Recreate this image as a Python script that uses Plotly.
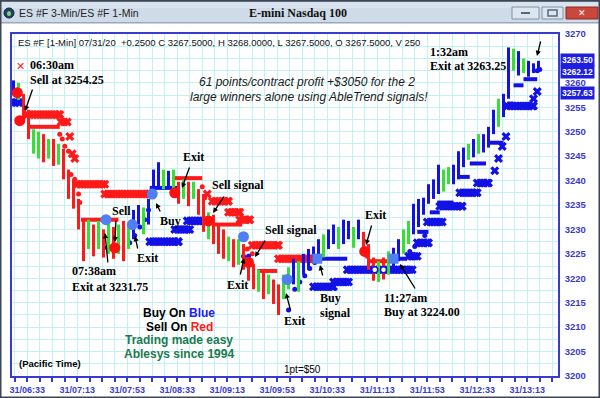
import plotly.graph_objects as go
import pandas as pd

DAY = "2020-07-31 "

# ---------------- data ----------------
bar_start = "06:22"          # first 4-minute bar
bar_step_min = 4
bar_high = [3260.5, 3260, 3257.75, 3254.5, 3250.5, 3250, 3249.5, 3248.5, 3248.5, 3247.5,
            3246.5, 3242.25, 3240.25, 3236.25, 3232, 3232, 3231, 3231.75, 3230, 3231.75,
            3230.5, 3231, 3231.75, 3231, 3234, 3235, 3234.5, 3236.25, 3242.25, 3243.75,
            3242.25, 3242, 3242.25, 3239.75, 3240.25, 3239.75, 3239.75, 3238.25, 3237.25, 3233.5,
            3233, 3231, 3230, 3228.5, 3228, 3228, 3227, 3224.25, 3223, 3221.75,
            3221.5, 3220.75, 3219.75, 3218.75, 3220.75, 3222.25, 3224, 3223.5, 3225, 3226,
            3226.5, 3228, 3229, 3230, 3231, 3230.5, 3232, 3231.75, 3230.5, 3232,
            3229.5, 3227, 3224.25, 3223.5, 3224.25, 3225.5, 3226.25, 3228, 3230, 3231.75,
            3235.25, 3236.25, 3236.5, 3239.25, 3240.25, 3243.25, 3242.25, 3242.75, 3243.25, 3246,
            3246.75, 3247.5, 3248.5, 3249.5, 3249.5, 3251, 3254.5, 3256.75, 3257.75, 3267.25,
            3267, 3266.5, 3265, 3264.5, 3264, 3264.5]
bar_low = [3257.5, 3256.5, 3252.25, 3248.5, 3245.5, 3244.5, 3243.75, 3244.5, 3243, 3243.25,
           3240.25, 3236.25, 3234.25, 3230, 3223.5, 3226, 3224.5, 3226, 3224.25, 3225,
           3224, 3225, 3223.5, 3226, 3228, 3231, 3229, 3231, 3236.25, 3238.25,
           3238.25, 3238.75, 3237.25, 3235.25, 3236.25, 3234.75, 3236.25, 3233, 3229.5, 3228,
           3227, 3225, 3224, 3223.5, 3222.25, 3222.75, 3221.75, 3219.5, 3217.75, 3217.25,
           3215.75, 3216.75, 3214.75, 3212.5, 3215.75, 3217.75, 3218.75, 3217.25, 3220.75, 3221.75,
           3223.5, 3223.5, 3224.25, 3226, 3227, 3226, 3227, 3228, 3226.25, 3228,
           3225, 3221.75, 3219.5, 3219.25, 3219.75, 3220.75, 3222.25, 3223.5, 3225, 3227,
           3229, 3230.5, 3233, 3235.25, 3236.25, 3237.25, 3237.75, 3239.25, 3239.25, 3240.25,
           3242.75, 3244.25, 3244.75, 3245.5, 3245.75, 3246.75, 3249.5, 3251, 3253, 3256.75,
           3262.5, 3261.5, 3262, 3261.25, 3262, 3262.5]
bar_color = ("bgrrggrgrg" "rrrrrgrgrg" "rgrgbbgbbb" "gbgrgrgrrg" "rrrgrgrrrg"
             "rgrrggbgbb" "bbgbbgbbgb" "rrrgrgbbgg" "bbbbbbggbb" "bgbgbbbgbb" "gbgbbb")

# trailing stop X bands (sell = red, buy = blue)
red_x_start = ["06:33", "07:00", "07:07", "07:09", "07:11", "07:13", "07:35", "08:57", "09:01", "09:14", "09:23", "09:33", "09:54"]
red_x_end   = ["06:59", "07:05", "07:07", "07:09", "07:11", "07:35", "08:11", "08:57", "09:14", "09:23", "09:31", "09:54", "10:22"]
red_x_price = [3253.5, 3252, 3249, 3245.5, 3244.5, 3239.25, 3237.25, 3237.25, 3235.75, 3233.5, 3232, 3226.75, 3224]

blue_x_start = ["06:21", "08:11", "08:31", "08:41", "10:22", "10:38", "10:49", "11:38", "11:45", "11:53", "12:03",
                "12:19", "12:33", "12:47", "12:50", "12:53", "12:56", "12:57", "13:18", "13:21"]
blue_x_end   = ["06:27", "08:34", "08:43", "08:55", "10:38", "10:50", "11:41", "11:45", "11:54", "12:05", "12:21",
                "12:33", "12:42", "12:47", "12:50", "12:53", "12:56", "13:18", "13:18", "13:21"]
blue_x_price = [3256, 3227.5, 3230, 3231.75, 3218.25, 3219.25, 3221.75, 3224.5, 3227.25, 3231.5, 3234.75,
                3237.5, 3239.5, 3242, 3244.5, 3247, 3249, 3255.25, 3256.75, 3258.25]

# step-line stops
red_line_start = ["06:35", "07:16", "08:31", "09:01", "09:37", "11:07"]
red_line_end   = ["06:59", "07:46", "08:53", "09:25", "09:53", "11:23"]
red_line_price = [3251, 3232, 3240.5, 3231, 3221.5, 3223.5]

red_dot_time = ["06:59", "07:01", "07:03", "07:06", "07:08", "07:11", "07:14", "07:15", "08:53", "08:55", "09:29", "09:33", "11:05"]
red_dot_price = [3249.5, 3248.5, 3247, 3246, 3241.25, 3240.25, 3237.25, 3235.5, 3238.75, 3236.5, 3226, 3225, 3224.5]

blue_line_start = ["07:34", "08:11", "10:27", "11:31", "11:45", "11:55", "12:01", "12:17", "12:27", "12:43", "12:57", "13:02", "13:10"]
blue_line_end   = ["07:47", "08:34", "10:49", "11:37", "11:54", "12:03", "12:14", "12:27", "12:40", "12:54", "13:02", "13:10", "13:21"]
blue_line_price = [3226.25, 3238.5, 3224, 3224, 3229.5, 3233.5, 3235.5, 3240.75, 3243.5, 3247.75, 3255.75, 3259.5, 3260.75]

blue_dot_time = ["07:55", "07:59", "08:03", "08:07", "08:10", "09:26", "09:30", "10:02", "10:07", "10:11", "10:15",
                 "10:19", "10:23", "11:39", "11:43", "11:51", "13:21", "13:23"]
blue_dot_price = [3227.25, 3228.75, 3230.5, 3232, 3234, 3224.5, 3224.5, 3213.5, 3217.75, 3219.25, 3220.5,
                  3222, 3223.25, 3225.5, 3226.5, 3228.75, 3262.5, 3262.75]

# signal markers
red_sig_time = ["06:25", "06:27", "07:43", "08:31", "08:58", "09:30", "11:03"]
red_sig_price = [3258, 3252.25, 3226.25, 3237.5, 3231.75, 3223.25, 3225.5]
blue_sig_time = ["07:36", "07:57", "08:13", "09:26", "10:01"]
blue_sig_price = [3232, 3231, 3237.25, 3228.5, 3219.75]
blue_sq_time = ["10:25", "11:26"]
blue_sq_price = [3224, 3224]
open_circle_time = ["11:11", "11:18"]
open_circle_price = [3221.75, 3221.75]

price_tags = ["3263.50", "3262.12", "3257.63"]

# ---------------- helpers ----------------
W, H = 600, 398
ML, MR, MT, MB = 12, 42, 34, 22
PW, PH = W - ML - MR, H - MT - MB


def px(X):
    return (X - ML) / PW


def py(Y):
    return (H - MB - Y) / PH


def T(s):
    return pd.Timestamp(DAY + s)


def band(starts, ends, prices, step_sec=150):
    xs, ys = [], []
    for s, e, p in zip(starts, ends, prices):
        t, te = T(s), T(e)
        while t <= te:
            xs.append(t)
            ys.append(p)
            t += pd.Timedelta(seconds=step_sec)
        if xs[-1] < te:
            xs.append(te)
            ys.append(p)
    return xs, ys


def segs(starts, ends, prices):
    xs, ys = [], []
    for s, e, p in zip(starts, ends, prices):
        xs += [T(s), T(e), None]
        ys += [p, p, None]
    return xs, ys


RED, GREEN, BLUE, LBLUE = "#ff1a1a", "#33e033", "#1212e6", "#4f7ff2"
AX = "#3a3ad0"
GRID = "#c4f1f5"

fig = go.Figure()

# X bands
for st, en, pr, col in [(red_x_start, red_x_end, red_x_price, RED),
                        (blue_x_start, blue_x_end, blue_x_price, BLUE)]:
    bx, by = band(st, en, pr)
    fig.add_trace(go.Scatter(x=bx, y=by, mode="markers",
                             marker=dict(symbol="x", size=8, color=col, line=dict(width=0))))

# step lines and dots
for st, en, pr, col in [(red_line_start, red_line_end, red_line_price, RED),
                        (blue_line_start, blue_line_end, blue_line_price, BLUE)]:
    lx, ly = segs(st, en, pr)
    fig.add_trace(go.Scatter(x=lx, y=ly, mode="lines", line=dict(color=col, width=4)))
fig.add_trace(go.Scatter(x=[T(t) for t in red_dot_time], y=red_dot_price, mode="markers",
                         marker=dict(symbol="circle", size=5, color=RED)))
fig.add_trace(go.Scatter(x=[T(t) for t in blue_dot_time], y=blue_dot_price, mode="markers",
                         marker=dict(symbol="circle", size=5, color=BLUE)))

# price bars
bar_times = [T(bar_start) + pd.Timedelta(minutes=bar_step_min * i) for i in range(len(bar_high))]
for code, col in [("r", RED), ("g", GREEN), ("b", BLUE)]:
    xs, ys = [], []
    for t, h, l, c in zip(bar_times, bar_high, bar_low, bar_color):
        if c == code:
            xs += [t, t, None]
            ys += [l, h, None]
    fig.add_trace(go.Scatter(x=xs, y=ys, mode="lines", line=dict(color=col, width=3)))

# signals
fig.add_trace(go.Scatter(x=[T(t) for t in red_sig_time], y=red_sig_price, mode="markers",
                         marker=dict(symbol="circle", size=11, color="#ff1010")))
fig.add_trace(go.Scatter(x=[T(t) for t in blue_sig_time], y=blue_sig_price, mode="markers",
                         marker=dict(symbol="circle", size=11, color=LBLUE)))
fig.add_trace(go.Scatter(x=[T(t) for t in blue_sq_time], y=blue_sq_price, mode="markers",
                         marker=dict(symbol="square", size=10, color=LBLUE)))
fig.add_trace(go.Scatter(x=[T(t) for t in open_circle_time], y=open_circle_price, mode="markers",
                         marker=dict(symbol="circle", size=6, color="white", line=dict(color=BLUE, width=1.5))))

# ---------------- annotations ----------------
ann = []
SERIF = dict(family="Liberation Serif, Times New Roman, serif", size=12, color="black")


def label(text, X, Y, anchor="center", font=SERIF):
    ann.append(dict(text=text, x=px(X), y=py(Y), xref="paper", yref="paper", showarrow=False,
                    xanchor=anchor, yanchor="middle", font=font))


def arrow(tail, tip):
    ann.append(dict(text="", x=px(tip[0]), y=py(tip[1]), xref="paper", yref="paper", showarrow=True,
                    ax=tail[0] - tip[0], ay=tail[1] - tip[1], arrowhead=2, arrowsize=0.8,
                    arrowwidth=1.3, arrowcolor="black"))


for t, X, Y, a in [("<b>06:30am</b>", 28, 65, "left"), ("<b>Sell at 3254.25</b>", 28, 80, "left"),
                   ("<b>Exit</b>", 193, 157, "center"), ("<b>Sell signal</b>", 238, 185, "center"),
                   ("<b>Sell signal</b>", 291, 230, "center"), ("<b>Exit</b>", 238, 285, "center"),
                   ("<b>Exit</b>", 294, 321, "center"), ("<b>Sell</b>", 121, 211, "center"),
                   ("<b>Buy</b>", 170, 221, "center"), ("<b>Exit</b>", 147, 258, "center"),
                   ("<b>07:38am</b>", 70, 271, "left"), ("<b>Exit at 3231.75</b>", 70, 287, "left"),
                   ("<b>Exit</b>", 375, 215, "center"), ("<b>Buy</b>", 318, 298, "left"),
                   ("<b>signal</b>", 318, 313, "left"), ("<b>11:27am</b>", 382, 298, "left"),
                   ("<b>Buy at 3224.00</b>", 382, 312, "left"), ("<b>1:32am</b>", 428, 52, "left"),
                   ("<b>Exit at 3263.25</b>", 428, 66, "left")]:
    label(t, X, Y, a)

for tail, tip in [((33, 88), (25, 111)), ((190, 166), (182, 188)), ((225, 195), (213, 213)),
                  ((266, 239), (255, 257)), ((240, 276), (244, 258)), ((291, 312), (286, 293)),
                  ((116, 219), (115, 242)), ((161, 213), (156, 203)), ((138, 250), (135, 236)),
                  ((108, 264), (105, 233)), ((372, 224), (366, 245)), ((323, 277), (320, 265)),
                  ((416, 290), (400, 264)), ((541, 40), (537, 56))]:
    arrow(tail, tip)

label("✕", 20, 66, "center", dict(family="DejaVu Sans", size=11, color=RED))

SANS = "Liberation Sans, Arial, sans-serif"
ital = dict(family=SANS, size=12, color="#1a1a1a")
label("<i>61 points/contract profit +$3050 for the 2</i>", 197, 82, "left", ital)
label("<i>large winners alone using AbleTrend signals!</i>", 188, 97, "left", ital)

bold12 = dict(family=SANS, size=12, color="black")
label("<b>Buy On <span style='color:#1a1aff'>Blue</span></b>", 179, 313, "center", bold12)
label("<b>Sell On <span style='color:#ff1a1a'>Red</span></b>", 179, 327, "center", bold12)
green12 = dict(family=SANS, size=12, color="#1b7a4f")
label("<b>Trading made easy</b>", 179, 340, "center", green12)
label("<b>Ablesys since 1994</b>", 179, 354, "center", green12)
label("<b>(Pacific Time)</b>", 17, 363, "left", dict(family=SANS, size=9.5, color="black"))
label("1pt=$50", 302, 369, "center", dict(family=SANS, size=10, color="black"))
label("ES #F [1-Min] 07/31/20  +0.2500 C 3267.5000, H 3268.0000, L 3267.5000, O 3267.5000, V 250",
      16, 43, "left", dict(family=SANS, size=9.5, color="#111111"))

# window title bar texts
label("ES #F 3-Min/ES #F 1-Min", 17, 13, "left", dict(family=SANS, size=10.5, color="#222222"))
label("<b>E-mini Nasdaq 100</b>", 298, 13, "center",
      dict(family="Liberation Serif, Times New Roman, serif", size=12, color="#111111"))
label("<b>✕</b>", 582, 13, "center", dict(family="DejaVu Sans", size=9, color="white"))

# price tags on the right axis
for txt, Y in zip(price_tags, [60, 72, 93]):
    ann.append(dict(text="<b>" + txt + "</b>", x=px(560), y=py(Y), xref="paper", yref="paper",
                    showarrow=False, xanchor="left", yanchor="middle", bgcolor="#1e1ee0",
                    borderpad=1, font=dict(family=SANS, size=8.5, color="white")))

# ---------------- window chrome ----------------
shapes = []


def rect(X0, Y0, X1, Y1, fill=None, line=None, lw=1, layer="above"):
    shapes.append(dict(type="rect", xref="paper", yref="paper", x0=px(X0), x1=px(X1),
                       y0=py(Y1), y1=py(Y0), fillcolor=fill or "rgba(0,0,0,0)",
                       line=dict(color=line or "rgba(0,0,0,0)", width=lw if line else 0), layer=layer))


rect(0, 0, 600, 23, fill="#cfdbe8")
rect(0, 0, 600, 8, fill="#d9e3ee")
rect(0, 0, 600, 2, fill="#7e8fa3")
rect(0, 22, 600, 23.5, fill="#9aa8b8")
# icon
shapes.append(dict(type="circle", xref="paper", yref="paper", x0=px(4), x1=px(14), y0=py(18), y1=py(8),
                   fillcolor="#23405f", line=dict(color="#10243a", width=1)))
shapes.append(dict(type="circle", xref="paper", yref="paper", x0=px(7), x1=px(11), y0=py(16), y1=py(11),
                   fillcolor="#7fd37f", line=dict(width=0)))
# buttons
rect(512, 7, 539, 19, fill="#dde6f0", line="#7f90a6")
rect(521, 12, 530, 14, fill="#56677c")
rect(542, 7, 563, 19, fill="#dde6f0", line="#7f90a6")
rect(548, 10, 557, 16, line="#56677c", lw=1.5)
rect(566, 7, 598, 19, fill="#c9473c", line="#8c2a22")
# outer frame
rect(0.5, 0.5, 599.5, 397.5, line="#3c4654", lw=2)

fig.update_layout(
    width=W, height=H, margin=dict(l=ML, r=MR, t=MT, b=MB, autoexpand=False),
    paper_bgcolor="white", plot_bgcolor="white", showlegend=False, hovermode=False,
    annotations=ann, shapes=shapes,
    xaxis=dict(type="date", range=[DAY + "06:20:48", DAY + "13:37:36"], automargin=False,
               tick0=DAY + "06:33", dtick=40 * 60 * 1000, tickformat="%d/%H:%M",
               showgrid=True, gridcolor=GRID, gridwidth=1, zeroline=False,
               ticks="outside", ticklen=4, tickcolor=AX, tickwidth=1.5,
               showline=True, linecolor=AX, linewidth=1.5, mirror=True,
               tickfont=dict(family=SANS, size=9, color=AX, weight="bold"),
               minor=dict(dtick=10 * 60 * 1000, tick0=DAY + "06:33", showgrid=True, gridcolor=GRID,
                          ticks="outside", ticklen=4, tickcolor=AX, tickwidth=1.5)),
    yaxis=dict(side="right", range=[3200, 3270], tick0=3200, dtick=5, automargin=False,
               showgrid=True, gridcolor=GRID, gridwidth=1, zeroline=False,
               ticks="", ticklabelstandoff=3,
               showline=True, linecolor=AX, linewidth=1.5, mirror=True,
               tickfont=dict(family=SANS, size=9.5, color=AX, weight="bold"),
               minor=dict(dtick=2.5, tick0=3200, showgrid=True, gridcolor=GRID)),
)

fig.write_html("out.html", config={"displayModeBar": False},
               post_script="document.body.style.margin='0';document.body.style.padding='0';"
                           "document.body.style.overflow='hidden';")
